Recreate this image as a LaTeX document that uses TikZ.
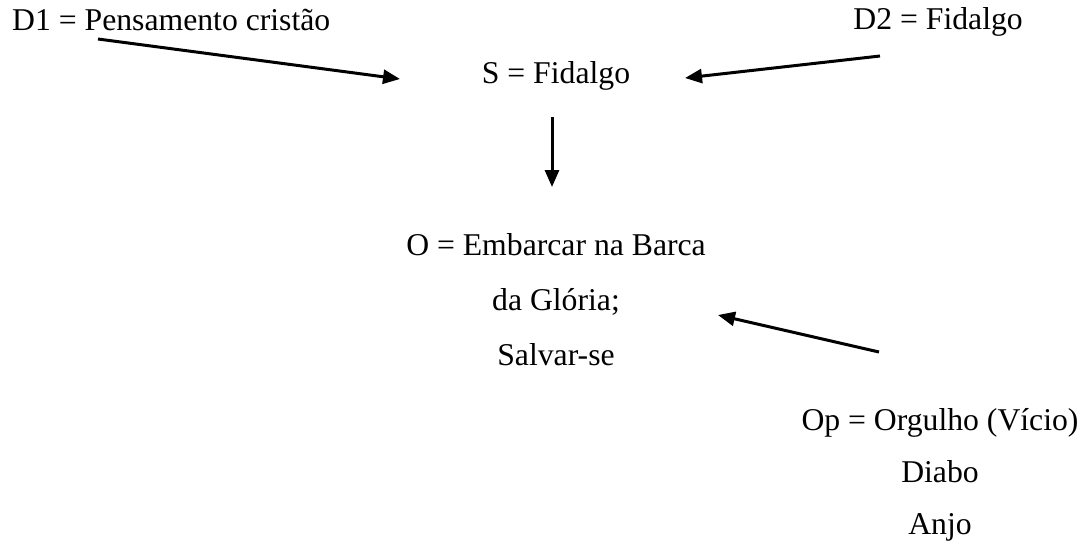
\documentclass[tikz,border=0pt]{standalone}
\usepackage{fontspec}
\setmainfont{Liberation Serif}
\usetikzlibrary{arrows.meta}
\tikzset{
    txt/.style={anchor=base,inner sep=0pt,font=\fontsize{31.7}{38}\selectfont},
    seta/.style={-{Triangle[length=17pt,width=14pt]},line width=3pt},
}
\newcommand{\bloco}[5] {
    \foreach \t [count=\i] in {#5}
        \node[txt] (#1\i) at ({#2},{#3+(\i-1)*#4}) {\t};
}

\begin{document}
\begin{tikzpicture}[x=1pt,y=-1pt]
    \useasboundingbox (0,0) rectangle (1084,542);
    \node[txt,anchor=base west] (d1) at (12,30) {D1 = Pensamento cristão};
    \node[txt,anchor=base east] (d2) at (1023,29) {D2 = Fidalgo};
    \node[txt] (s) at (556,83) {S = Fidalgo};
    \bloco{o}{556}{255}{55}{{O = Embarcar na Barca},{da Glória;},{Salvar-se}}
    \bloco{op}{940}{430}{52}{{Op = Orgulho (Vício)},{Diabo},{Anjo}}
    % pontas das setas
    \coordinate (d1a) at (98,39);
    \coordinate (d1b) at (400,79);
    \coordinate (d2a) at (880,56);
    \coordinate (d2b) at (685,78);
    \coordinate (sa) at (552,117);
    \coordinate (sb) at (552,187);
    \coordinate (opa) at (879,352);
    \coordinate (opb) at (718,315);
    \draw[seta] (d1a) -- (d1b);
    \draw[seta] (d2a) -- (d2b);
    \draw[seta] (sa) -- (sb);
    \draw[seta] (opa) -- (opb);
\end{tikzpicture}
\end{document}
